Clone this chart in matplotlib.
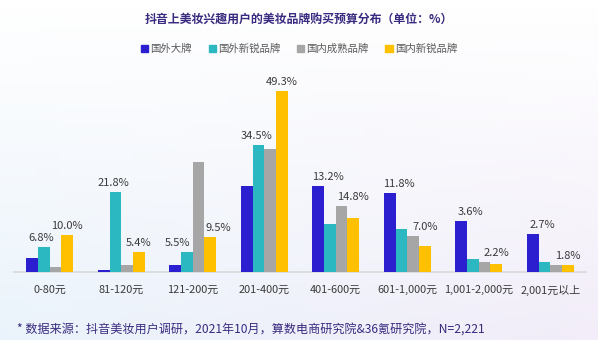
import numpy as np
import matplotlib
matplotlib.use('Agg')
import matplotlib.pyplot as plt
from matplotlib.patches import Patch

plt.rcParams['font.family'] = ['Noto Sans CJK SC', 'DejaVu Sans']

# 数据
categories = ['0-80元', '81-120元', '121-200元', '201-400元', '401-600元',
              '601-1,000元', '1,001-2,000元', '2,001元以上']
series_names = ['国外大牌', '国外新锐品牌', '国内成熟品牌', '国内新锐品牌']
intl_big = [3.9, 0.5, 1.9, 23.4, 23.4, 21.5, 13.9, 10.4]
intl_new = [6.8, 21.8, 5.5, 34.5, 13.2, 11.8, 3.6, 2.7]
dom_mature = [1.4, 1.8, 30.0, 33.5, 18.0, 9.8, 2.6, 1.9]
dom_new = [10.0, 5.4, 9.5, 49.3, 14.8, 7.0, 2.2, 1.8]

colors = ['#2b1fd0', '#2bb8c1', '#a6a6a6', '#ffc000']
title_color = '#3a2b80'
text_color = '#3a3a3a'

fig = plt.figure(figsize=(5.98, 3.40), dpi=100)

# 背景渐变
bg = fig.add_axes([0, 0, 1, 1], zorder=-10)
h, w = 60, 100
yy, xx = np.mgrid[0:1:h*1j, 0:1:w*1j]
top = np.array([1.0, 1.0, 1.0])
bl = np.array([0.92, 0.955, 0.985])
br = np.array([0.95, 0.93, 0.975])
t = yy[..., None]
img = (1 - t) * top + t * ((1 - xx[..., None]) * bl + xx[..., None] * br)
bg.imshow(img, aspect='auto', extent=[0, 1, 0, 1], origin='upper')
bg.axis('off')

ax = fig.add_axes([14/598, 68/340, 572/598, 202/340])
ax.patch.set_alpha(0)

x = np.arange(len(categories))
bw = 0.164
data = [intl_big, intl_new, dom_mature, dom_new]
for i, vals in enumerate(data):
    ax.bar(x + (i - 1.5) * bw, vals, bw, color=colors[i], zorder=3)

# 数据标签（国外新锐品牌、国内新锐品牌）
for k in range(len(categories)):
    # 国外新锐品牌
    tx = x[k] - 0.5 * bw - 0.2 * bw
    ty = max(intl_big[k], intl_new[k])
    if dom_mature[k] > intl_new[k] + 10:
        tx -= 0.6 * bw
    ax.annotate(f'{intl_new[k]:.1f}%', (tx, ty), xytext=(0, 3), textcoords='offset points',
                ha='center', va='bottom', fontsize=8, color=text_color)
    # 国内新锐品牌
    yx = x[k] + 1.5 * bw
    yv = max(dom_mature[k], dom_new[k])
    if dom_mature[k] > dom_new[k] + 10:
        yv = dom_new[k]
        yx += 0.7 * bw
    ax.annotate(f'{dom_new[k]:.1f}%', (yx, yv), xytext=(0, 3), textcoords='offset points',
                ha='center', va='bottom', fontsize=8, color=text_color)

ax.set_xlim(-0.5, len(categories) - 0.5)
ax.set_ylim(0, 55)
ax.set_yticks([])
ax.set_xticks(x)
ax.set_xticklabels(categories, fontsize=7.9, color=text_color)
ax.tick_params(axis='x', length=0, pad=9)
for s in ['top', 'right', 'left']:
    ax.spines[s].set_visible(False)
ax.spines['bottom'].set_color('#d9d9d9')
ax.spines['bottom'].set_linewidth(1.2)

fig.text(0.5, 1 - 19/340, '抖音上美妆兴趣用户的美妆品牌购买预算分布（单位：%）',
         ha='center', va='center', fontsize=8.6, fontweight='bold', color=title_color)

handles = [Patch(color=c) for c in colors]
fig.legend(handles, series_names, loc='center', bbox_to_anchor=(0.5, 1 - 49/340), ncol=4,
           frameon=False, fontsize=7.5, handlelength=0.7, handleheight=0.7,
           handletextpad=0.2, columnspacing=1.6, labelcolor='#595959')

fig.text(17/598, 1 - 329/340, '* 数据来源：抖音美妆用户调研，2021年10月，算数电商研究院&36氪研究院，N=2,221',
         ha='left', va='center', fontsize=8.7, color=title_color)

fig.savefig('out.png', dpi=100)
